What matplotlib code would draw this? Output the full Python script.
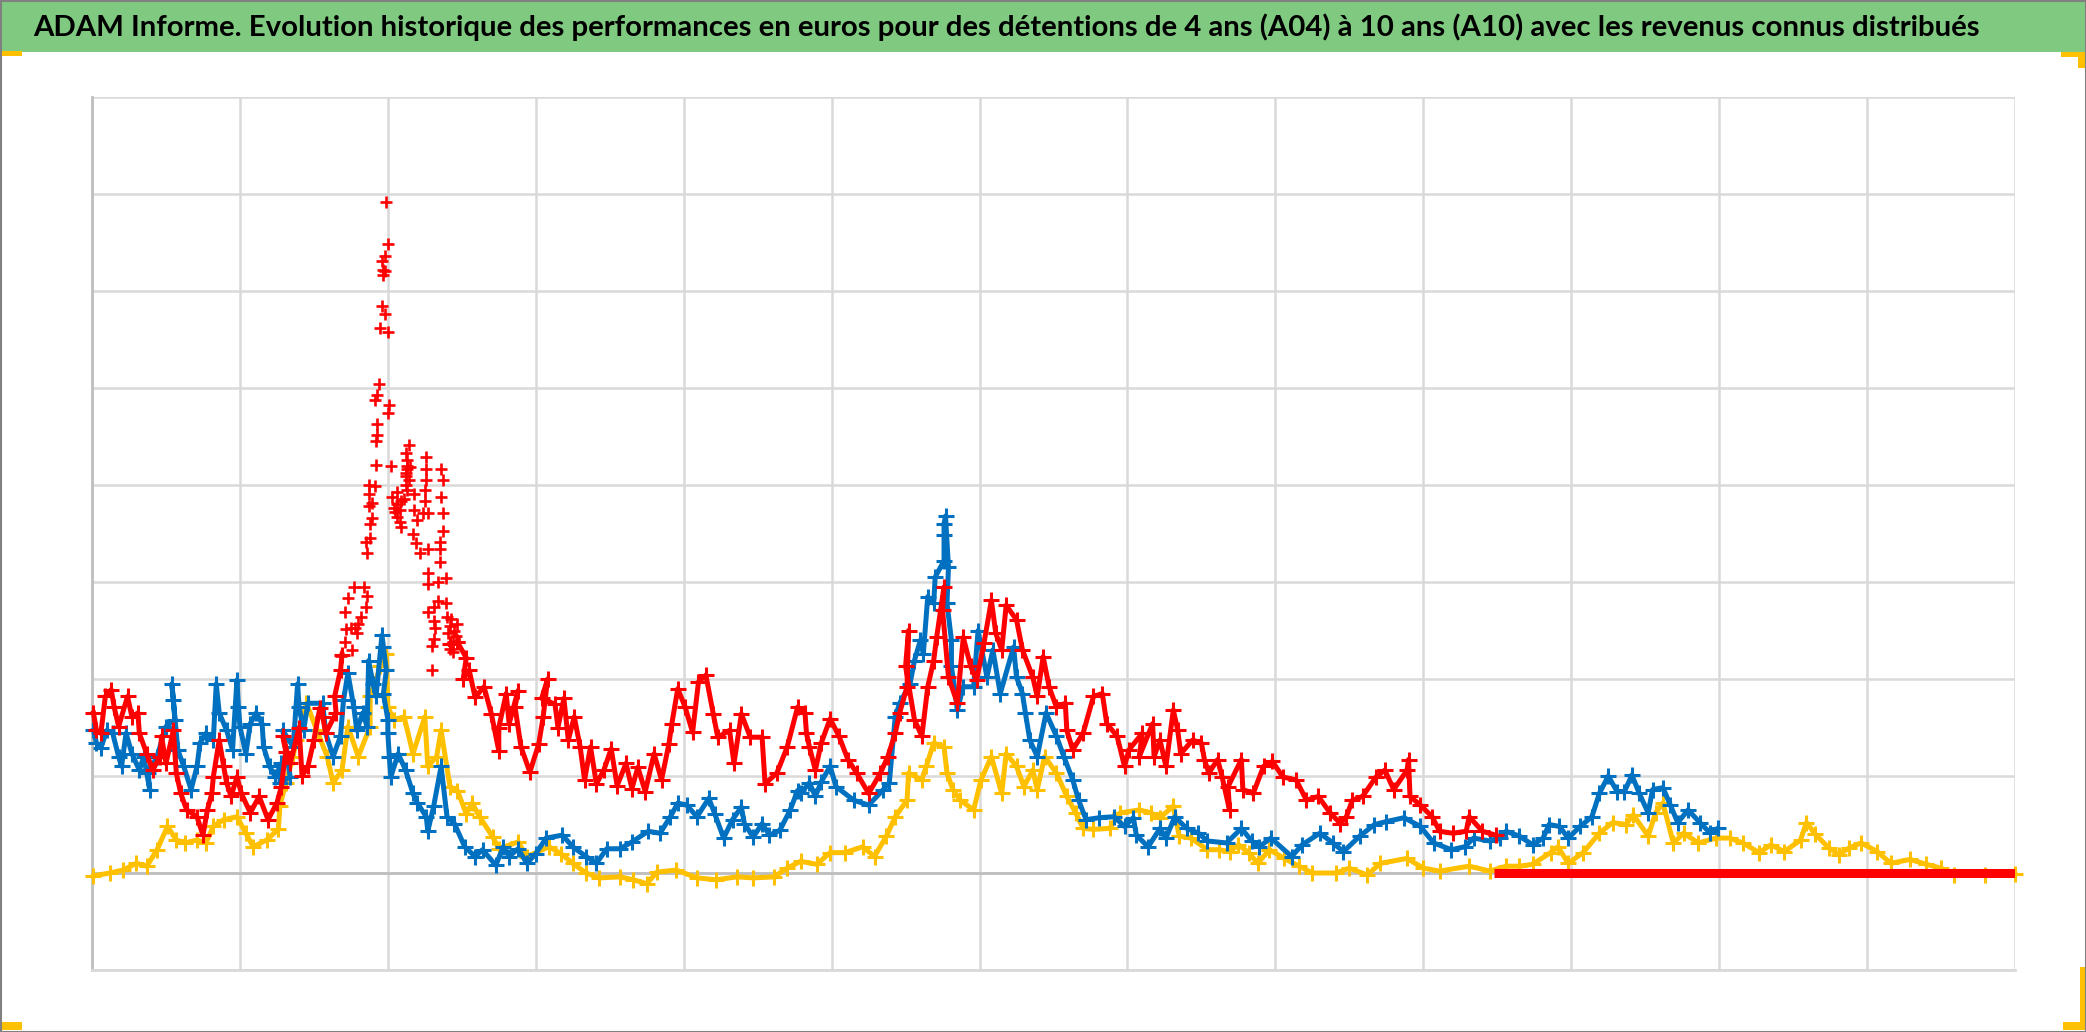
import matplotlib
matplotlib.use("Agg")
import matplotlib.pyplot as plt
from matplotlib.patches import Rectangle

W, H = 2086, 1032

title = "ADAM Informe. Evolution historique des performances en euros pour des détentions de 4 ans (A04) à 10 ans (A10) avec les revenus connus distribués"

# red series, start
red_x = [1, 3, 6, 9, 13, 15, 18, 24, 27, 31, 32, 37, 41, 46, 47, 50, 55, 57, 60, 64, 71, 75, 78, 81, 82, 86, 89, 91, 94, 98,
         101, 107, 113, 119, 125, 128, 131, 129, 134, 140, 142, 146, 150, 154, 156, 158, 165, 164, 168, 169]
red_y = [165, 147, 144, 182, 189, 171, 151, 182, 161, 165, 144, 123, 106, 120, 141, 113, 147, 103, 82, 65, 58, 39, 65, 82, 99, 137, 110, 93, 79, 99,
         82, 62, 79, 55, 72, 89, 125, 141, 113, 150, 100, 110, 137, 170, 161, 144, 165, 182, 209, 225]

# red series, the spike: loose points, no band
peak_x = [177, 173, 171, 172, 171, 176, 168, 168, 179, 182, 184, 186, 185, 178, 175, 180, 186, 185, 188, 188, 189, 187, 189, 187, 187, 191,
          192, 192, 193, 193, 191, 193, 194, 195, 198, 196, 200, 197, 198, 197, 200, 198, 196, 199, 200, 201, 202, 206, 203, 204, 208, 206,
          209, 211, 212, 213, 213, 214, 215, 218, 218, 220, 217, 219, 222, 227, 224, 227, 225, 225, 226, 226, 226, 236, 237, 236, 237, 237,
          235, 235, 235, 239, 234, 227, 227, 239, 234, 231, 227, 231, 232, 231, 230, 230, 240, 242, 247, 241, 244, 242, 248, 212, 213, 212,
          214, 213, 212, 206, 208, 205, 209, 245, 243, 246, 244]
peak_y = [295, 284, 269, 252, 238, 230, 224, 209, 247, 264, 295, 286, 274, 253, 253, 257, 330, 341, 345, 360, 366, 378, 381, 391, 400, 399,
          421, 445, 452, 463, 488, 493, 504, 562, 576, 585, 558, 617, 621, 622, 648, 636, 631, 692, 474, 482, 420, 393, 388, 376, 374, 367,
          357, 386, 400, 416, 426, 441, 419, 391, 374, 364, 350, 340, 330, 334, 371, 371, 395, 384, 405, 416, 429, 416, 405, 388, 371, 353,
          341, 334, 321, 304, 300, 309, 298, 278, 280, 274, 269, 260, 253, 241, 234, 209, 264, 255, 257, 247, 238, 231, 238, 433, 420, 409,
          405, 395, 412, 380, 362, 372, 384, 250, 262, 244, 228]

# red series, after the spike
red2_x = [242, 247, 253, 251, 255, 259, 265, 270, 275, 275, 280, 282, 288, 286, 290, 296, 302, 305, 308, 304, 313, 315, 319, 322, 326, 330,
          333, 337, 341, 346, 351, 355, 361, 365, 369, 374, 380, 385, 390, 392, 396, 401, 406, 410, 415, 420, 423, 431, 434, 439, 445, 453,
          455, 463, 470, 477, 482, 483, 485, 489, 493, 499, 505, 511, 517, 525, 533, 538, 543, 546, 551, 552, 550, 556, 561, 565, 569, 571,
          576, 575, 579, 585, 589, 594, 598, 603, 608, 611, 615, 618, 625, 629, 636, 639, 643, 647, 652, 658, 659, 663, 670, 677, 683, 686,
          693, 698, 701, 710, 708, 717, 718, 722, 726, 731, 734, 736, 744, 750, 752, 755, 761, 764, 769, 768, 777, 778, 785, 792, 798, 805,
          814, 821, 829, 837, 844, 848, 852, 859, 868, 874, 880, 889, 890, 891, 898, 906, 911, 920, 929, 931, 940, 949]
red2_y = [236, 238, 222, 200, 209, 181, 192, 164, 126, 150, 185, 154, 188, 171, 130, 104, 133, 161, 200, 180, 174, 150, 180, 137, 161, 130,
          96, 130, 92, 106, 128, 90, 113, 87, 109, 84, 123, 96, 133, 154, 190, 171, 145, 197, 204, 164, 140, 147, 113, 164, 140, 140,
          92, 103, 130, 171, 165, 144, 130, 106, 134, 159, 141, 117, 103, 82, 103, 120, 144, 165, 192, 250, 213, 158, 141, 192, 219, 243,
          295, 271, 202, 175, 243, 213, 199, 237, 281, 247, 230, 276, 261, 230, 202, 182, 223, 192, 171, 175, 147, 127, 144, 182, 185, 154,
          141, 110, 127, 144, 120, 154, 120, 137, 110, 168, 147, 123, 137, 134, 117, 103, 117, 99, 65, 89, 117, 86, 82, 110, 115, 99,
          96, 75, 79, 62, 51, 58, 75, 79, 99, 106, 86, 106, 117, 79, 70, 58, 43, 41, 43, 58, 43, 39]

# red series sits on zero for the last years
red_flat_x = [948, 1300]
red_flat_y = [0, 0]

blue_x = [1, 3, 6, 10, 14, 18, 20, 23, 27, 32, 35, 39, 38, 44, 50, 56, 55, 54, 58, 62, 67, 71, 73, 77, 82, 84, 86, 91, 95, 98,
          99, 100, 104, 107, 111, 115, 116, 120, 124, 128, 127, 134, 129, 136, 139, 140, 143, 146, 156, 158, 163, 168, 170, 173, 177, 179,
          183, 186, 187, 190, 192, 196, 197, 199, 197, 200, 200, 201, 202, 207, 212, 217, 220, 226, 227, 231, 236, 240, 245, 252, 259, 264,
          273, 278, 282, 288, 294, 300, 307, 318, 325, 334, 341, 348, 357, 365, 376, 384, 391, 396, 402, 409, 417, 421, 427, 433, 439, 441,
          447, 453, 458, 465, 472, 477, 479, 485, 489, 493, 499, 503, 515, 525, 535, 539, 543, 546, 553, 556, 560, 562, 565, 569, 570, 576,
          576, 576, 577, 579, 578, 581, 581, 585, 589, 596, 599, 605, 609, 614, 623, 625, 629, 631, 634, 639, 645, 652, 657, 663, 667, 672,
          681, 691, 698, 704, 706, 714, 722, 726, 732, 740, 748, 754, 767, 777, 784, 789, 797, 811, 818, 830, 839, 846, 857, 867, 875, 887,
          898, 907, 919, 928, 934, 945, 952, 956, 965, 974, 981, 985, 992, 998, 1006, 1014, 1019, 1025, 1031, 1036, 1041, 1046, 1052, 1055,
          1062, 1067, 1072, 1079, 1087, 1094, 1099]
blue_y = [147, 134, 129, 147, 144, 120, 110, 144, 123, 106, 120, 86, 103, 120, 151, 158, 178, 195, 127, 110, 86, 110, 134, 144, 137, 195, 165, 147, 127, 199,
          171, 151, 123, 154, 165, 154, 130, 110, 99, 113, 93, 99, 147, 130, 195, 171, 147, 175, 175, 144, 120, 141, 178, 206, 171, 147,
          165, 151, 219, 195, 182, 245, 233, 209, 185, 158, 144, 120, 99, 123, 106, 82, 72, 58, 43, 69, 110, 58, 51, 27, 17, 24,
          8, 27, 17, 25, 10, 20, 36, 39, 27, 17, 10, 25, 25, 32, 43, 41, 58, 72, 70, 58, 77, 61, 36, 55, 68, 51,
          37, 51, 39, 44, 65, 85, 82, 93, 79, 94, 110, 89, 75, 70, 86, 93, 161, 175, 195, 219, 240, 226, 285, 278, 305, 322,
          348, 360, 368, 315, 278, 240, 213, 168, 192, 192, 250, 202, 230, 185, 233, 202, 185, 165, 137, 120, 165, 141, 120, 96, 75, 55,
          57, 58, 48, 57, 39, 27, 46, 36, 58, 46, 41, 33, 31, 46, 33, 27, 36, 17, 29, 41, 31, 22, 38, 50, 53, 57,
          48, 31, 24, 27, 36, 33, 36, 43, 38, 29, 36, 50, 48, 36, 48, 58, 82, 100, 84, 84, 101, 82, 62, 86,
          88, 70, 52, 65, 52, 41, 46]

gold_x = [1, 12, 21, 30, 37, 44, 51, 57, 63, 71, 77, 82, 89, 98, 104, 109, 118, 126, 127, 131, 136, 138, 145, 152, 159, 163, 169, 173, 180, 188,
          188, 195, 199, 200, 204, 211, 217, 225, 227, 233, 236, 242, 247, 253, 257, 262, 271, 275, 288, 294, 309, 317, 325, 334, 343, 357, 366,
          375, 382, 395, 409, 422, 436, 447, 461, 470, 479, 490, 499, 509, 521, 529, 537, 543, 551, 552, 561, 564, 569, 576, 578, 582, 587,
          596, 601, 608, 615, 618, 625, 630, 636, 639, 644, 652, 659, 665, 670, 677, 688, 695, 708, 716, 722, 731, 735, 743, 754, 762, 769,
          775, 782, 788, 796, 806, 816, 825, 841, 850, 862, 871, 889, 900, 911, 931, 945, 956, 965, 974, 986, 991, 998, 1008, 1019, 1028,
          1037, 1042, 1052, 1057, 1062, 1069, 1076, 1086, 1098, 1107, 1116, 1127, 1135, 1144, 1155, 1159, 1165, 1174, 1181, 1188, 1196, 1207,
          1216, 1229, 1240, 1250, 1259, 1280, 1300]
gold_y = [-3, 0, 3, 10, 7, 24, 48, 34, 31, 34, 31, 48, 55, 58, 41, 27, 34, 45, 69, 93, 120, 137, 175, 147, 120, 93, 106, 151, 120, 151,
          182, 213, 226, 171, 158, 161, 123, 161, 110, 120, 147, 89, 85, 61, 72, 58, 37, 25, 32, 17, 27, 20, 10, 0, -5, -4, -7,
          -11, 1, 3, -5, -7, -4, -5, -4, 5, 12, 9, 21, 21, 27, 17, 38, 58, 75, 103, 96, 110, 134, 130, 103, 86, 75,
          65, 96, 120, 82, 123, 110, 89, 106, 86, 120, 103, 79, 62, 46, 45, 46, 62, 65, 62, 57, 69, 38, 36, 24, 24, 22,
          29, 21, 10, 24, 15, 7, 0, 0, 5, -2, 10, 15, 5, 2, 7, 2, 7, 7, 9, 21, 27, 10, 21, 41, 52,
          50, 60, 38, 62, 72, 31, 41, 31, 36, 36, 31, 21, 29, 22, 34, 52, 40, 26, 19, 26, 31, 22,
          10, 14, 9, 5, -2, -2, -1]

colors = {"red": "#FF0000", "blue": "#0070C0", "gold": "#FFC000"}
grid_color = "#D9D9D9"
axis_color = "#BFBFBF"

fig = plt.figure(figsize=(W / 100, H / 100), dpi=100, facecolor="white")

# page furniture: green band, outer frame, yellow corners, in pixels
bg = fig.add_axes([0, 0, 1, 1])
bg.set_xlim(0, W)
bg.set_ylim(H, 0)
bg.axis("off")
bg.add_patch(Rectangle((0, 0), W, 52, color="#7FCA80", lw=0))
for box in [(0, 51, 22, 5), (2061, 52, 25, 5), (2078, 52, 8, 16), (0, 1022, 22, 8), (2063, 1022, 23, 8), (2080, 967, 6, 63)]:
    bg.add_patch(Rectangle(box[:2], box[2], box[3], color=colors["gold"], lw=0))
bg.add_patch(Rectangle((0.5, 0.5), W - 1, H - 1, fill=False, edgecolor="#808080", lw=1.5))
bg.text(33, 27, title, family="Lato", fontweight="bold", fontsize=21.2, color="black", va="center", ha="left")

ax = fig.add_axes([92 / W, 1 - 970 / H, (2015 - 92) / W, (970 - 97) / H])
ax.patch.set_alpha(0)
ax.set_xlim(0, 1300)
ax.set_ylim(-100, 800)
ax.set_xticks(range(0, 1301, 100))
ax.set_yticks(range(-100, 801, 100))
ax.tick_params(length=0, labelbottom=False, labelleft=False)
ax.grid(True, color=grid_color, lw=1.8)
ax.set_axisbelow(True)
for name, spine in ax.spines.items():
    spine.set_visible(name in ("left", "bottom"))
    spine.set_color(axis_color if name == "left" else grid_color)
    spine.set_linewidth(2)
ax.axhline(0, color=axis_color, lw=2, zorder=1)

style = dict(marker="+", ms=12, mew=2.2, lw=3.6, clip_on=False)
ax.plot(gold_x, gold_y, color=colors["gold"], zorder=3, **style)
ax.plot(blue_x, blue_y, color=colors["blue"], zorder=4, **style)
ax.plot(red_x, red_y, color=colors["red"], zorder=5, **style)
ax.plot(red2_x, red2_y, color=colors["red"], zorder=5, **style)
ax.plot(peak_x, peak_y, color=colors["red"], ls="none", marker="+", ms=8, mew=1.9, zorder=5)
ax.plot(red_flat_x, red_flat_y, color=colors["red"], lw=6.5, solid_capstyle="butt", zorder=5)

fig.savefig("out.png", dpi=100)
